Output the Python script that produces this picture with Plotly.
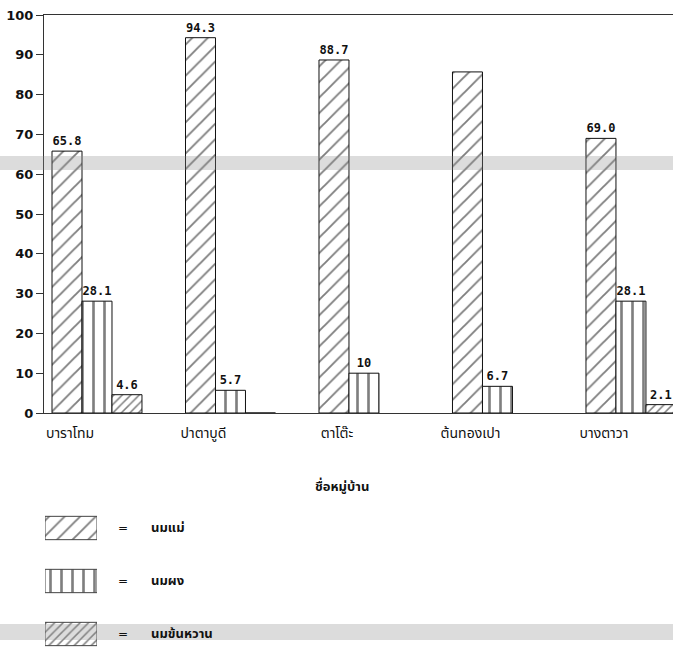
import plotly.graph_objects as go

# Villages and share of households (%) by type of milk fed to infants
villages = ["บาราโทม", "ปาตาบูดี", "ตาโต๊ะ", "ต้นทองเปา", "บางตาวา"]
breast_milk = [65.8, 94.3, 88.7, 85.7, 69.0]
breast_milk_labelled = [True, True, True, False, True]
formula_milk = [28.1, 5.7, 10, 6.7, 28.1]
condensed_milk = [4.6, 0, None, None, 2.1]
series_names = ["นมแม่", "นมผง", "นมข้นหวาน"]
y_ticks = list(range(0, 101, 10))

THAI = "Noto Sans Thai, Loma, Garuda, Tlwg Typo, Norasi, DejaVu Sans, sans-serif"
INK = "#000000"


def value_labels(values, labelled=None):
    out = []
    for i, v in enumerate(values):
        show = v not in (None, 0) and (labelled is None or labelled[i])
        out.append(str(v) if show else "")
    return out


patterns = [
    dict(shape="/", size=11, solidity=0.17, fgcolor=INK, bgcolor="white"),
    dict(shape="|", size=11, solidity=0.24, fgcolor=INK, bgcolor="white"),
    dict(shape="/", size=6, solidity=0.25, fgcolor=INK, bgcolor="white"),
]
series_values = [breast_milk, formula_milk, condensed_milk]
series_labels = [
    value_labels(breast_milk, breast_milk_labelled),
    value_labels(formula_milk),
    value_labels(condensed_milk),
]

fig = go.Figure()
for name, vals, txt, pat in zip(series_names, series_values, series_labels, patterns):
    fig.add_trace(go.Bar(
        x=villages, y=vals, name=name, text=txt,
        textposition="outside", constraintext="none", cliponaxis=True,
        textfont=dict(family="DejaVu Sans Mono", size=12, color="#111", weight="bold"),
        marker=dict(color="white", pattern=pat, line=dict(color="#111", width=1)),
        showlegend=False,
    ))

# Legend swatches: one patterned bar per series in a small side panel
for name, pat in zip(series_names, patterns):
    fig.add_trace(go.Bar(
        x=[1], y=[name], base=0, orientation="h", width=0.44,
        offsetgroup="key", xaxis="x2", yaxis="y2",
        marker=dict(color="white", pattern=pat, line=dict(color="#444", width=1)),
        showlegend=False, hoverinfo="skip",
    ))

L, T, W, H = 44, 15, 673, 650
plot_w, plot_h = W - L, H - T


def px_x(p):
    return (p - L) / plot_w


def px_y(p):
    return (H - p) / plot_h


for row, name in enumerate(series_names):
    yc = px_y(528 + 53 * row)
    fig.add_annotation(x=px_x(123), y=yc, xref="paper", yref="paper", text="=",
                       showarrow=False, xanchor="center", yanchor="middle",
                       font=dict(family="DejaVu Sans", size=12, color="#111"))
    fig.add_annotation(x=px_x(149), y=yc, xref="paper", yref="paper", text=f"<b>{name}</b>",
                       showarrow=False, xanchor="left", yanchor="middle",
                       font=dict(family=THAI, size=13, color="#111"))

fig.add_annotation(x=px_x(342), y=px_y(487), xref="paper", yref="paper",
                   text="<b>ชื่อหมู่บ้าน</b>", showarrow=False,
                   xanchor="center", yanchor="middle",
                   font=dict(family=THAI, size=13, color="#111"))

# faint grey streaks left by the scanner
for top, bottom in [(156, 170), (624, 640)]:
    fig.add_shape(type="rect", xref="paper", yref="paper",
                  x0=px_x(0), x1=px_x(W), y0=px_y(bottom), y1=px_y(top),
                  fillcolor="rgba(140,140,140,0.30)", line=dict(width=0), layer="above")

fig.update_layout(
    width=W, height=H,
    margin=dict(l=L, r=0, t=T, b=0, autoexpand=False),
    paper_bgcolor="white", plot_bgcolor="white",
    barmode="group", bargap=0.326, bargroupgap=0,
    xaxis=dict(
        type="category", range=[-0.397, 4.315],
        showline=True, mirror=True, linecolor="#333", linewidth=1,
        ticks="", showgrid=False, zeroline=False,
        tickfont=dict(family=THAI, size=14, color="#111"),
        ticklabelshift=-27, ticklabelstandoff=7,
    ),
    yaxis=dict(
        domain=[px_y(413), 1], range=[0, 100],
        tickvals=y_ticks, ticks="outside", ticklen=7, tickcolor="#333",
        showline=True, linecolor="#333", linewidth=1,
        showgrid=False, zeroline=False,
        tickfont=dict(family="DejaVu Sans", size=13, color="#111", weight="bold"),
    ),
    xaxis2=dict(domain=[px_x(45), px_x(97)], range=[0, 1], anchor="y2",
                visible=False, fixedrange=True),
    yaxis2=dict(domain=[0, px_y(505)], type="category",
                range=[2.302, -0.434], anchor="x2", visible=False, fixedrange=True),
)

fig.write_html("out.html")
